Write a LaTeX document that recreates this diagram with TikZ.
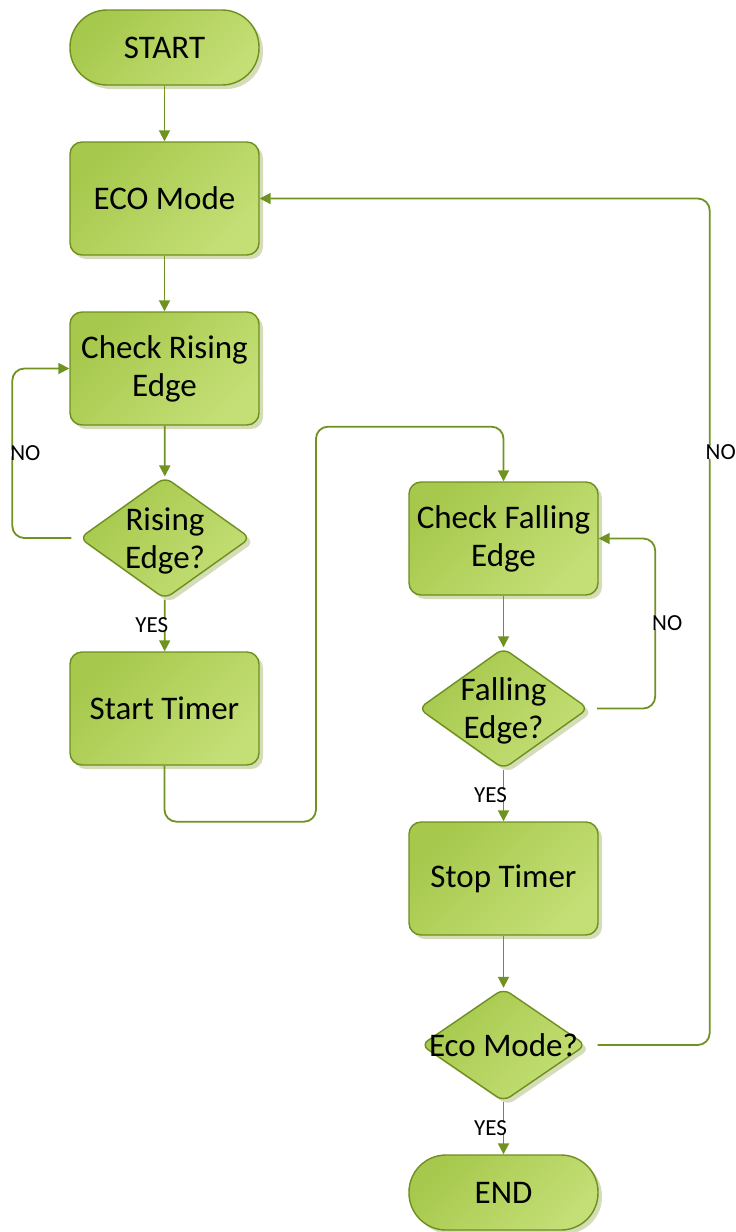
\documentclass[tikz,border=0pt]{standalone}
\usepackage{fontspec}
\setmainfont{Carlito}
\usetikzlibrary{shapes.geometric,shadows,arrows.meta}
\definecolor{lineg}{RGB}{112,146,32}
\definecolor{edgeg}{RGB}{110,142,30}
\definecolor{filla}{RGB}{166,200,76}
\definecolor{fillb}{RGB}{196,223,118}
\definecolor{shadeg}{RGB}{212,221,184}
% text of a decision: centred, but without widening the diamond
\newcommand\dtext[1]{\makebox[0pt]{\raisebox{-10pt}[0pt][0pt]{\begin{tabular}{@{}c@{}}#1\end{tabular}}}}
\tikzset{
  boxbase/.style={draw=edgeg, line width=1.4pt, top color=filla, bottom color=fillb,
    shading angle=45,
    drop shadow={shadow xshift=4pt, shadow yshift=-4pt, fill=shadeg, opacity=1},
    font=\fontsize{33}{38}\selectfont, inner sep=0pt},
  process/.style={boxbase, rectangle, rounded corners=12pt, align=center,
    minimum width=189pt, minimum height=113pt},
  terminal/.style={boxbase, rectangle, rounded corners=37pt, align=center,
    minimum width=189pt, minimum height=75pt},
  decision/.style={boxbase, diamond, rounded corners=8pt,
    minimum width=171pt, minimum height=122pt},
  conn/.style={draw=lineg, line width=1.8pt, rounded corners=12pt,
    -{Triangle[length=11pt,width=11pt]}},
  flag/.style={fill=white, inner sep=1pt, text=black, font=\fontsize{23}{25}\selectfont},
}
\begin{document}
\begin{tikzpicture}[x=1pt,y=-1pt]
\useasboundingbox (0,0) rectangle (736,1232);

% left column
\node[terminal] (start) at (164.5,47.5) {START};
\node[process]  (eco)   at (164.5,198.5) {ECO Mode};
\node[process]  (cr)    at (164.5,368.5) {Check Rising\\Edge};
\node[decision] (rd)    at (165,538) {\dtext{Rising\\Edge?}};
\node[process]  (st)    at (164.5,708.5) {Start Timer};

% right column
\node[process]  (cf)    at (503.5,538.5) {Check Falling\\Edge};
\node[decision, minimum width=170pt, minimum height=121pt] (fd) at (503.5,708.5) {\dtext{Falling\\Edge?}};
\node[process]  (stt)   at (503.5,878.5) {Stop Timer};
\node[decision, minimum width=165pt, minimum height=113pt] (em) at (503.5,1045) {\dtext{Eco Mode?}};
\node[terminal] (en)    at (503.5,1192.5) {END};

% main flow
\draw[conn] (start) -- (eco);
\draw[conn] (eco) -- (cr);
\draw[conn] (cr) -- (rd);
\draw[conn] (rd) -- node[flag, xshift=-13pt] {YES} (st);
\draw[conn] (st.south) -- ++(0,56) -- ++(151.5,0) -- ++(0,-395) -| (cf.north);
\draw[conn] (cf) -- (fd);
\draw[conn] (fd) -- node[flag, xshift=-13pt] {YES} (stt);
\draw[conn] (stt) -- (em);
\draw[conn] (em) -- node[flag, xshift=-13pt] {YES} (en);

% loops back on NO
\draw[conn] ([xshift=-7.5pt]rd.west) -- ++(-59,0) |- node[flag, pos=0.25, xshift=13pt] {NO} (cr.west);
\draw[conn] ([xshift=8pt]fd.east) -- ++(58,0) |- node[flag, pos=0.25, xshift=12pt] {NO} (cf.east);
\draw[conn] ([xshift=11pt]em.east) -- ++(112,0) |- node[flag, pos=0.35, xshift=11pt] {NO} (eco.east);
\end{tikzpicture}
\end{document}
